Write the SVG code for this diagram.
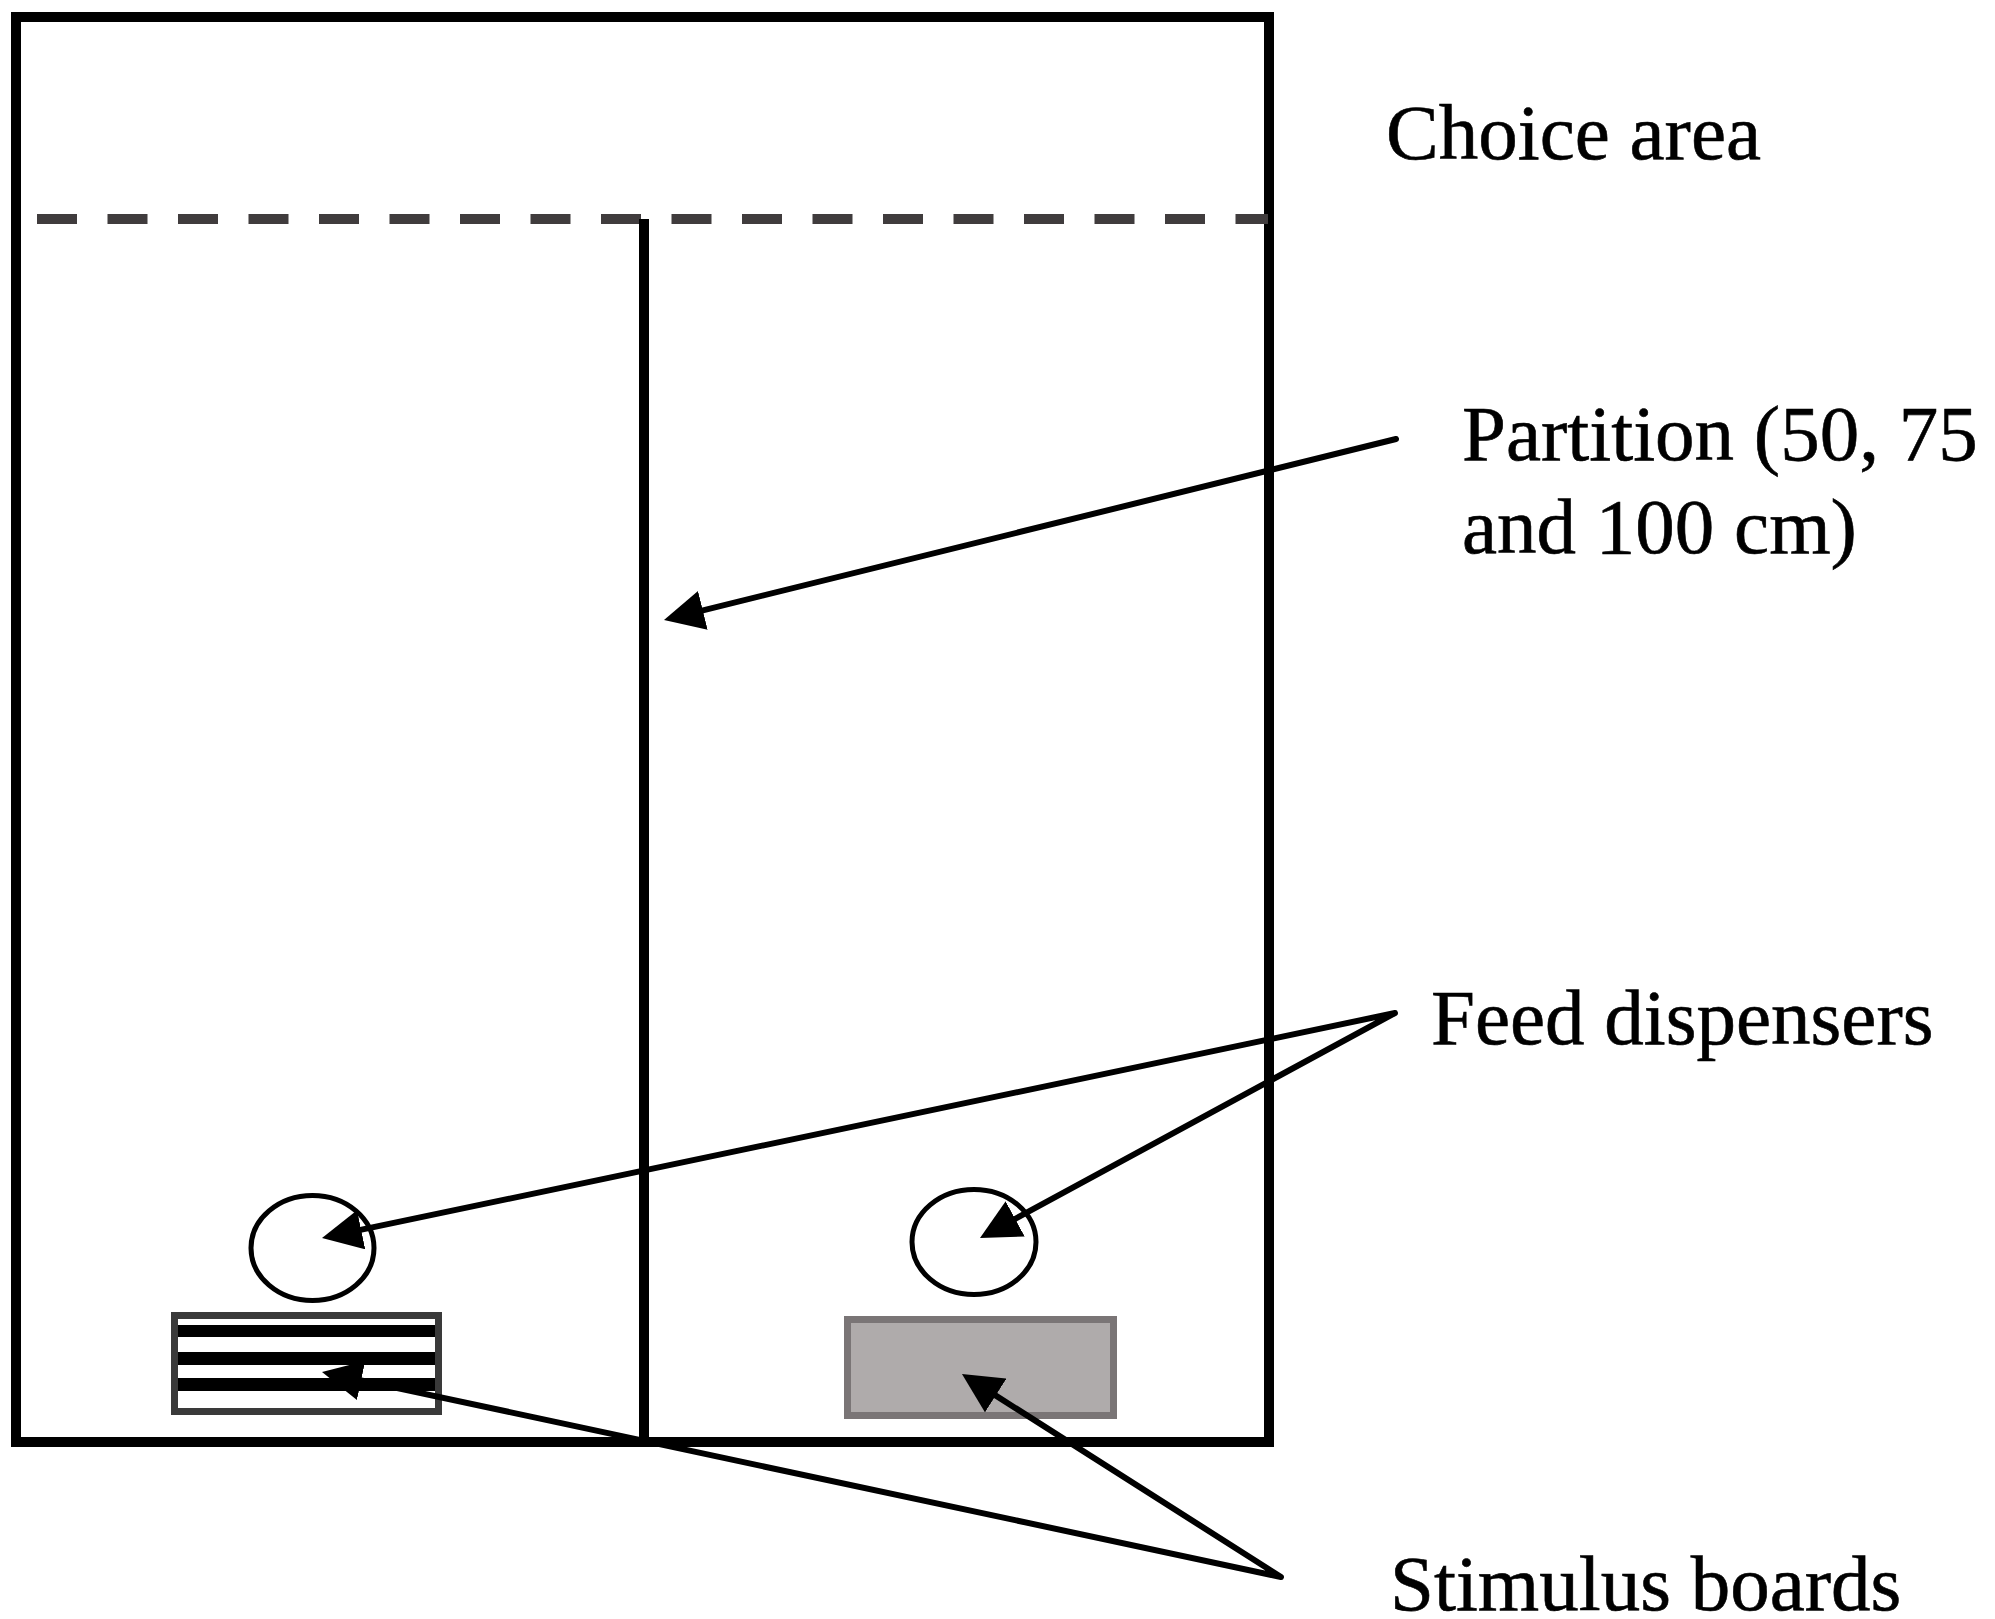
<svg xmlns="http://www.w3.org/2000/svg" width="1995" height="1619" viewBox="0 0 1995 1619">
<style>
.wall{fill:none;stroke:#000;stroke-width:10}
.part{stroke:#000;stroke-width:10}
.dash{stroke:#403c3d;stroke-width:10;stroke-dasharray:40 30.5}
.disp{fill:#fff;stroke:#000;stroke-width:5}
.lbl{font-family:"Liberation Serif","Times New Roman",serif;font-size:79px;fill:#000;stroke:#000;stroke-width:0.6}
.arr{fill:none;stroke:#000;stroke-width:6;stroke-linejoin:round;stroke-linecap:round}
</style>
<defs>
<marker id="ah" viewBox="0 0 40 40" refX="30" refY="20" markerWidth="40" markerHeight="40" markerUnits="userSpaceOnUse" orient="auto-start-reverse">
<path d="M0,0 L40,20 L0,40 z" fill="#000"/>
</marker>
</defs>
<rect width="1995" height="1619" fill="#fff"/>
<g id="enclosure">
<rect class="wall" x="16" y="17" width="1253" height="1425"/>
<line class="dash" x1="37" y1="219" x2="1268" y2="219"/>
</g>
<g id="partition">
<line class="part" x1="644" y1="219" x2="644" y2="1442"/>
</g>
<g id="feed-left">
<ellipse class="disp" cx="312.5" cy="1248" rx="61.5" ry="52.5"/>
</g>
<g id="feed-right">
<ellipse class="disp" cx="974" cy="1242" rx="62" ry="52.5"/>
</g>
<g id="board-striped">
<rect x="174.5" y="1315.5" width="264" height="96" fill="#fff" stroke="#3a3a3a" stroke-width="7"/>
<rect x="178" y="1325" width="257" height="12" fill="#000"/>
<rect x="178" y="1352" width="257" height="13" fill="#000"/>
<rect x="178" y="1378" width="257" height="13" fill="#000"/>
</g>
<g id="board-grey">
<rect x="847.5" y="1319.5" width="266" height="96" fill="#afabab" stroke="#7a7576" stroke-width="7"/>
</g>
<g id="connectors">
<path class="arr" d="M1396,439 L673.7,617.6" marker-end="url(#ah)"/>
<path class="arr" d="M331.8,1235.9 L1395,1013 L988.8,1233.2" marker-start="url(#ah)" marker-end="url(#ah)"/>
<path class="arr" d="M331.8,1374.1 L1281,1577 L970.4,1379.4" marker-start="url(#ah)" marker-end="url(#ah)"/>
</g>
<g id="labels">
<text class="lbl" x="1386" y="159">Choice area</text>
<text class="lbl" x="1462" y="460">Partition (50, 75</text>
<text class="lbl" x="1462" y="553">and 100 cm)</text>
<text class="lbl" x="1431" y="1044">Feed dispensers</text>
<text class="lbl" x="1390" y="1610">Stimulus boards</text>
</g>
</svg>
